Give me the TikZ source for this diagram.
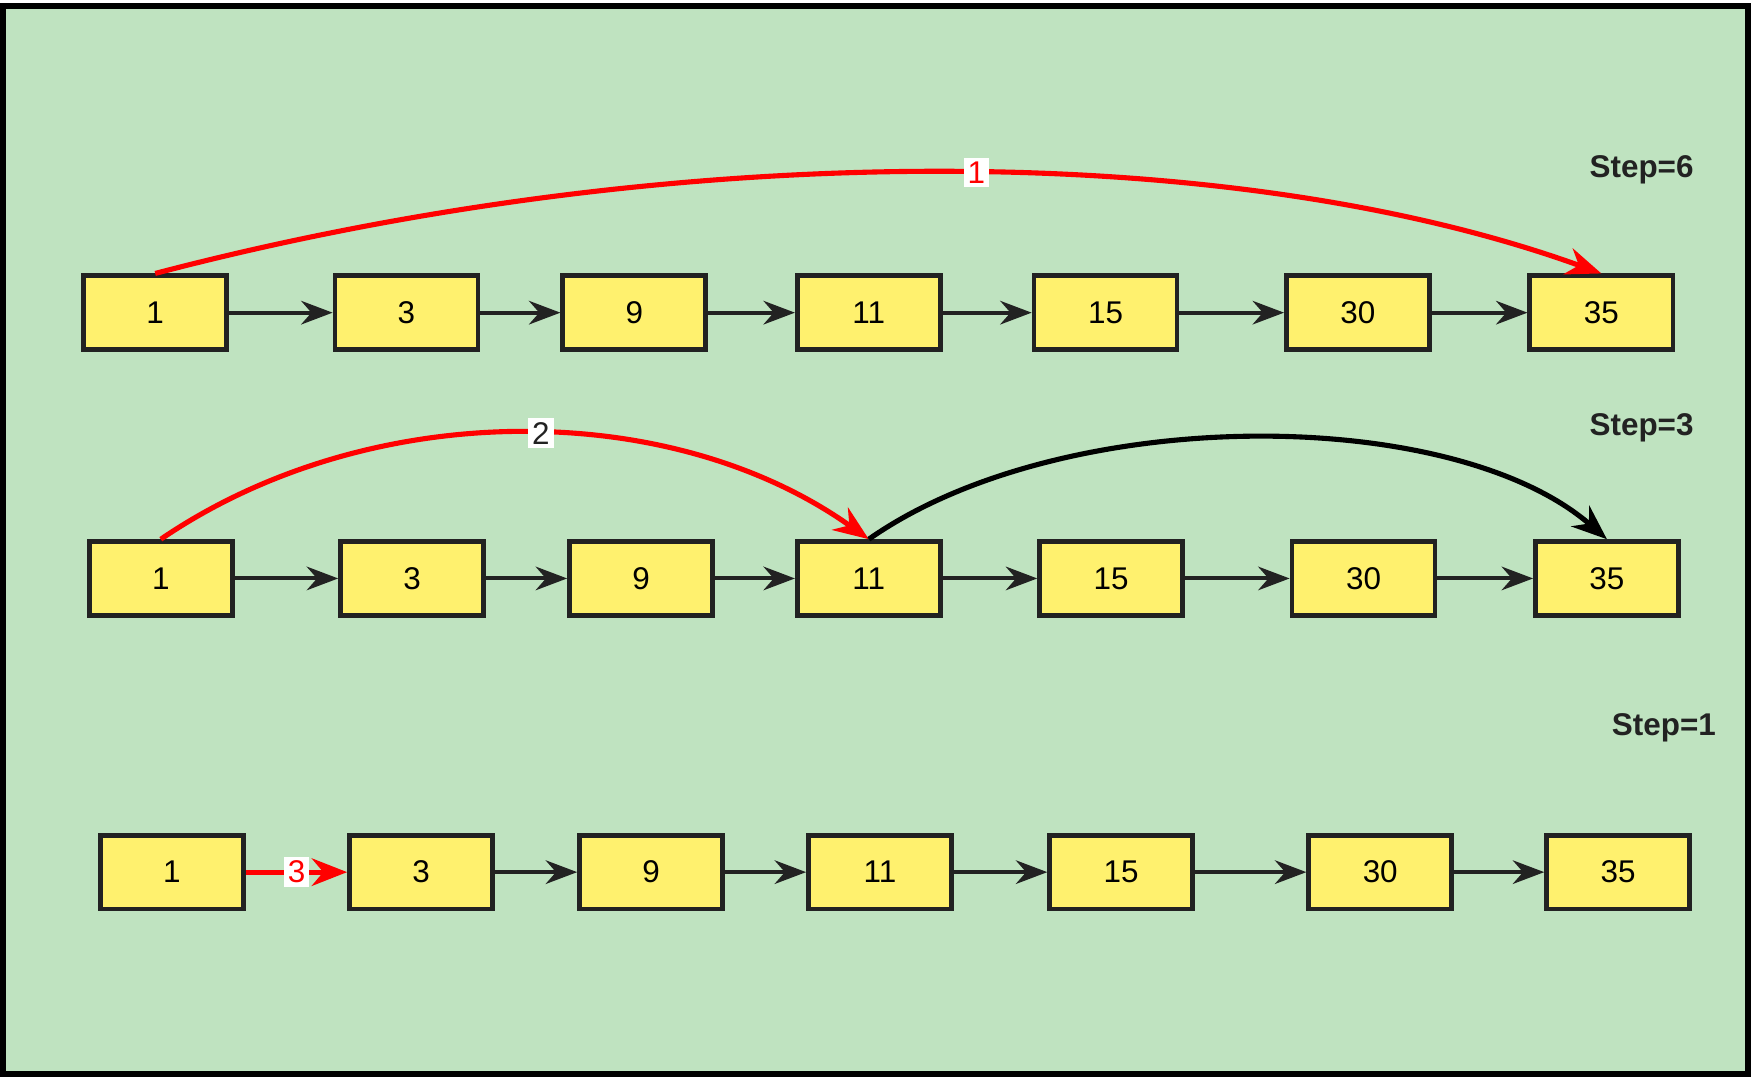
\documentclass[tikz,border=0pt]{standalone}
\usepackage{fontspec}
\setmainfont{Liberation Sans}
\usetikzlibrary{arrows.meta}
\definecolor{bgGreen}{HTML}{BFE3C0}
\definecolor{boxYellow}{HTML}{FFF16E}
\definecolor{lineGray}{HTML}{222222}
\begin{document}
\begin{tikzpicture}[x=0.01cm, y=-0.01cm, font=\fontsize{8}{9}\selectfont]
	\tikzstyle{boxStyle}=[draw=lineGray, line width=1.2pt, fill=boxYellow, minimum width=1.28cm, minimum height=0.66cm, inner sep=0pt]
	\tikzstyle{linkStyle}=[draw=lineGray, line width=1pt, -{Stealth[length=8pt, width=6pt]}]
	\tikzstyle{hopStyle}=[red, line width=1.3pt, -{Stealth[length=9pt, width=7pt]}]
	\tikzstyle{stepStyle}=[font=\fontsize{8}{9}\selectfont\bfseries, text=lineGray]
	\tikzstyle{tagStyle}=[fill=white, inner sep=1pt]
	\useasboundingbox (0,0) rectangle (1568,967);
	\draw[fill=bgGreen, line width=1.5pt] (3,5) rectangle (1565,962);
	% row 1
	\foreach \x/\v/\n in {139/1/a1, 364/3/a2, 568/9/a3, 778/11/a4, 990/15/a5, 1216/30/a6, 1434/35/a7}
		\node[boxStyle] (\n) at (\x,280) {\v};
	% row 2
	\foreach \x/\v/\n in {144/1/b1, 369/3/b2, 574/9/b3, 778/11/b4, 995/15/b5, 1221/30/b6, 1439/35/b7}
		\node[boxStyle] (\n) at (\x,518) {\v};
	% row 3
	\foreach \x/\v/\n in {154/1/c1, 377/3/c2, 583/9/c3, 788/11/c4, 1004/15/c5, 1236/30/c6, 1449/35/c7}
		\node[boxStyle] (\n) at (\x,781) {\v};
	% links
	\foreach \s/\t in {a1/a2, a2/a3, a3/a4, a4/a5, a5/a6, a6/a7,
		b1/b2, b2/b3, b3/b4, b4/b5, b5/b6, b6/b7,
		c2/c3, c3/c4, c4/c5, c5/c6, c6/c7}
		\draw[linkStyle] (\s) -- (\t);
	% jumps
	\draw[hopStyle] (a1.north) .. controls (600,124) and (1100,124) .. (a7.north)
		node[tagStyle, pos=0.53] {1};
	\draw[hopStyle] (b1.north) .. controls (330,356) and (600,356) .. (b4.north)
		node[tagStyle, pos=0.53, text=lineGray] {2};
	\draw[line width=1.3pt, -{Stealth[length=9pt, width=7pt]}] (b4.north) .. controls (950,362) and (1300,362) .. (b7.north);
	\draw[hopStyle] (c1) -- node[tagStyle] {3} (c2);
	\node[stepStyle] (s6) at (1470,152) {Step=6};
	\node[stepStyle] (s3) at (1470,383) {Step=3};
	\node[stepStyle] (s1) at (1490,652) {Step=1};
\end{tikzpicture}
\end{document}
